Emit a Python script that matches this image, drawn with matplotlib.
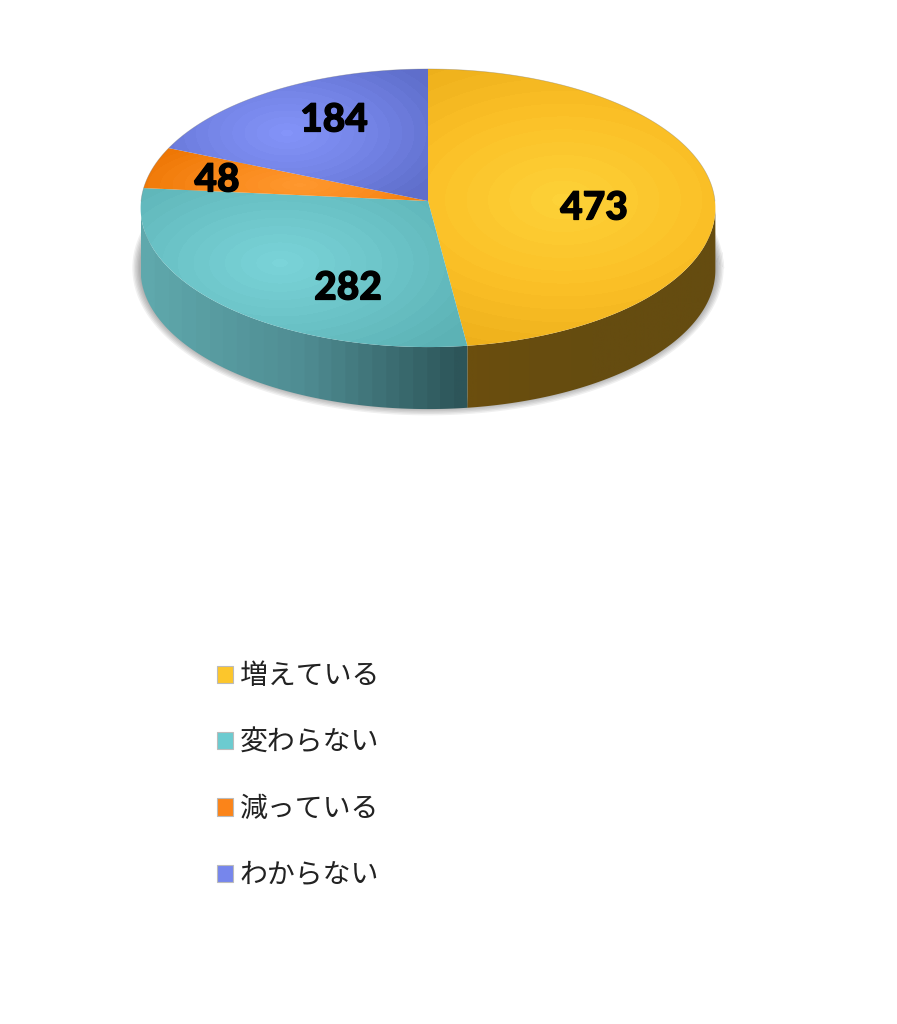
import matplotlib
matplotlib.use('Agg')
import matplotlib.pyplot as plt
import matplotlib.patheffects as pe
import numpy as np
from matplotlib.colors import LinearSegmentedColormap
from matplotlib.patches import Patch, Polygon

plt.rcParams['font.family'] = ['Noto Sans CJK JP', 'DejaVu Sans']

# dados
categories = ['増えている', '変わらない', '減っている', 'わからない']
values = [473, 282, 48, 184]

# colours of each slice: centre, middle, rim
top_colors = [['#fdd238', '#fbc027', '#e8aa17'],
              ['#7bd4d9', '#6cc4c8', '#5cb2b5'],
              ['#ff982f', '#fa8a1c', '#ee7705'],
              ['#8494f9', '#7484e6', '#5f6ecb']]
swatch = ['#fcc62c', '#6ccbd0', '#fb8419', '#7686ec']
wall_colors = [['#6b4e0e', '#654c10', '#654c10'],
               ['#5fa8ac', '#4f8c92', '#2d5559'], None, None]

# layout, in pixels of the 897x1024 picture
cx, cy = 428, 201
rx, ry, persp = 287, 138.7, 0.0504
depth = 62
glow = [(563, 200, 300, 180), (280, 263, 220, 115), (300, 185, 170, 50), (287, 133, 170, 90)]
label_xy = [(594, 208), (348, 288), (217, 180), (334, 120)]


def project(theta):
    # circle seen in perspective: the far side is a bit smaller
    x = np.cos(theta)
    y = np.sin(theta)
    d = 1 + persp * y
    return cx + rx * x / d, cy - ry * y / d


fig = plt.figure(figsize=(8.97, 10.24), dpi=100)
ax = fig.add_axes([0, 0, 1, 1])

angles = np.radians(90 - np.cumsum([0] + values) / sum(values) * 360)
yy, xx = np.mgrid[0:1024, 0:897] + 0.5

# shadow under the lower edge
t = np.linspace(0, 2 * np.pi, 400)
ex, ey = project(t)
for lw in np.arange(12, 1, -2):
    ax.plot(ex, ey + depth - 2, color='black', lw=lw, alpha=0.06, zorder=1)

# side wall, only the part facing us
front_a = -np.pi + np.arcsin(persp)
front_b = -np.arcsin(persp)
for i in range(len(values)):
    a0 = max(angles[i + 1], front_a)
    a1 = min(angles[i], front_b)
    if a1 <= a0 or wall_colors[i] is None:
        continue
    wx, wy = project(np.linspace(a0, a1, 200))
    pts = np.vstack([np.c_[wx, wy], np.c_[wx[::-1], wy[::-1] + depth]])
    cmap = LinearSegmentedColormap.from_list('w%d' % i, wall_colors[i], N=24)
    grad = np.linspace(0, 1, 256)[None, :]
    im = ax.imshow(grad, cmap=cmap, extent=[wx.min(), wx.max(), cy + 240, cy - 40],
                   aspect='auto', zorder=2)
    poly = Polygon(pts, closed=True, transform=ax.transData, fc='none', ec='none')
    ax.add_patch(poly)
    im.set_clip_path(poly)

# top face, each slice with its own radial glow
for i in range(len(values)):
    sx, sy = project(np.linspace(angles[i + 1], angles[i], 300))
    pts = np.vstack([[cx, cy], np.c_[sx, sy]])
    gx, gy, grx, gry = glow[i]
    r = np.sqrt(((xx - gx) / grx) ** 2 + ((yy - gy) / gry) ** 2)
    r = np.round(np.clip(r, 0, 1) * 14) / 14
    cmap = LinearSegmentedColormap.from_list('t%d' % i, top_colors[i])
    im = ax.imshow(r, cmap=cmap, vmin=0, vmax=1, extent=[0, 897, 1024, 0], aspect='auto',
                   zorder=3, interpolation='bilinear')
    poly = Polygon(pts, closed=True, transform=ax.transData, fc='none', ec='none')
    ax.add_patch(poly)
    im.set_clip_path(poly)
    txt = ax.text(label_xy[i][0], label_xy[i][1], str(values[i]), family='Lato', weight='black',
                  fontsize=28, color='black', ha='center', va='center', zorder=5)
    txt.set_path_effects([pe.withStroke(linewidth=0.9, foreground='black')])

# thin grey line on the far rim
t = np.linspace(0, np.pi, 300)
ex, ey = project(t)
ax.plot(ex, ey, color='#777777', lw=0.5, alpha=0.4, zorder=4)

ax.set_xlim(0, 897)
ax.set_ylim(1024, 0)
ax.axis('off')

handles = [Patch(facecolor=swatch[i], edgecolor='#bbbbbb', lw=0.8, label=categories[i])
           for i in range(len(values))]
ax.legend(handles=handles, loc='upper left', bbox_to_anchor=(206 / 897, 1 - 650 / 1024),
          frameon=False, fontsize=20.1, labelcolor='#222222', handlelength=0.58,
          handleheight=0.58, handletextpad=0.22, labelspacing=1.30, borderaxespad=0)

fig.savefig('out.png', dpi=100)
